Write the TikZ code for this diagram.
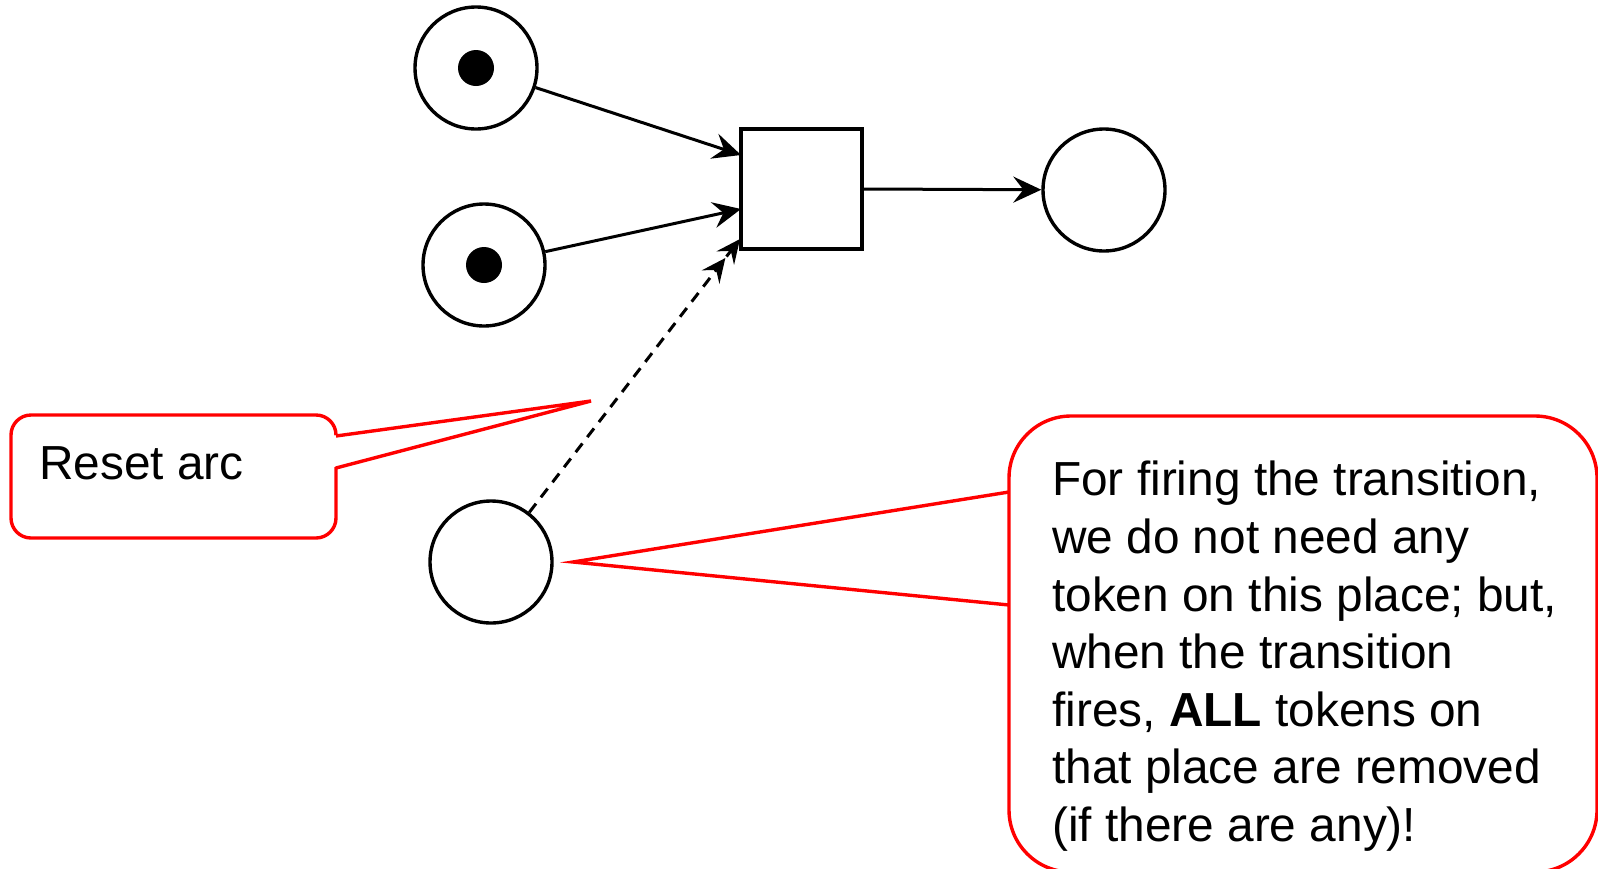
\documentclass[tikz,border=0pt]{standalone}
\usepackage{fontspec}
\setmainfont{Liberation Sans}
\usetikzlibrary{arrows.meta}
\begin{document}
\begin{tikzpicture}[x=1pt,y=-1pt,
  place/.style={circle,draw,line width=3.4pt,minimum size=122pt,inner sep=0pt,fill=white},
  trans/.style={rectangle,draw,line width=3.4pt,minimum width=121pt,minimum height=120pt,inner sep=0pt},
  token/.style={circle,fill=black,minimum size=36pt,inner sep=0pt},
  arc/.style={line width=3pt,-{Stealth[length=28pt,width=26pt,inset=10pt]}},
  resetarc/.style={line width=3pt,dash pattern=on 11pt off 8pt,-{Stealth[length=24pt,width=22pt,inset=9pt]Stealth[length=24pt,width=22pt,inset=9pt]}},
  callout/.style={draw=red,line width=3.4pt,line join=miter},
  txt/.style={font={\fontsize{47.8}{57.6}\selectfont},inner sep=0pt}]
\useasboundingbox (0,0) rectangle (1598,868);
\fill[white] (0,0) rectangle (1598,868);
% places and transition
\node[place] (p1) at (476,68) {};
\node[token] (k1) at (476,68) {};
\node[place] (p2) at (484,265) {};
\node[token] (k2) at (484,265) {};
\node[place] (p3) at (491,562) {};
\node[place] (p4) at (1104,190) {};
\node[trans] (tr) at (801.5,189) {};
\coordinate (in1) at (741,155);
\coordinate (in2) at (741,209);
\coordinate (rtip) at (740,239);
% arcs
\draw[arc] (p1) -- (in1);
\draw[arc] (p2) -- (in2);
\draw[arc] (tr.east) -- (p4);
\draw[resetarc] (p3) -- (rtip);
% callout 1
\draw[callout,rounded corners=20pt] (11,415) rectangle (336,538);
\fill[white] (330,436) -- (591,401) -- (330,468) -- cycle;
\coordinate (c1tip) at (591,401);
\draw[callout] (336,436) -- (c1tip) -- (336,468);
\node[txt,anchor=base west] (t1) at (39,479) {Reset arc};
% callout 2
\draw[callout,rounded corners=62pt] (1009,416) rectangle (1597,872);
\fill[white] (1003,492) -- (573,562) -- (1003,605) -- cycle;
\coordinate (c2tip) at (573,562);
\draw[callout] (1009,492) -- (c2tip) -- (1009,605);
\node[txt,anchor=north west,align=left] (t2) at (1052,461) {For firing the transition,\\we do not need any\\token on this place; but,\\when the transition\\fires, \textbf{ALL} tokens on\\that place are removed\\(if there are any)!};
\end{tikzpicture}
\end{document}
